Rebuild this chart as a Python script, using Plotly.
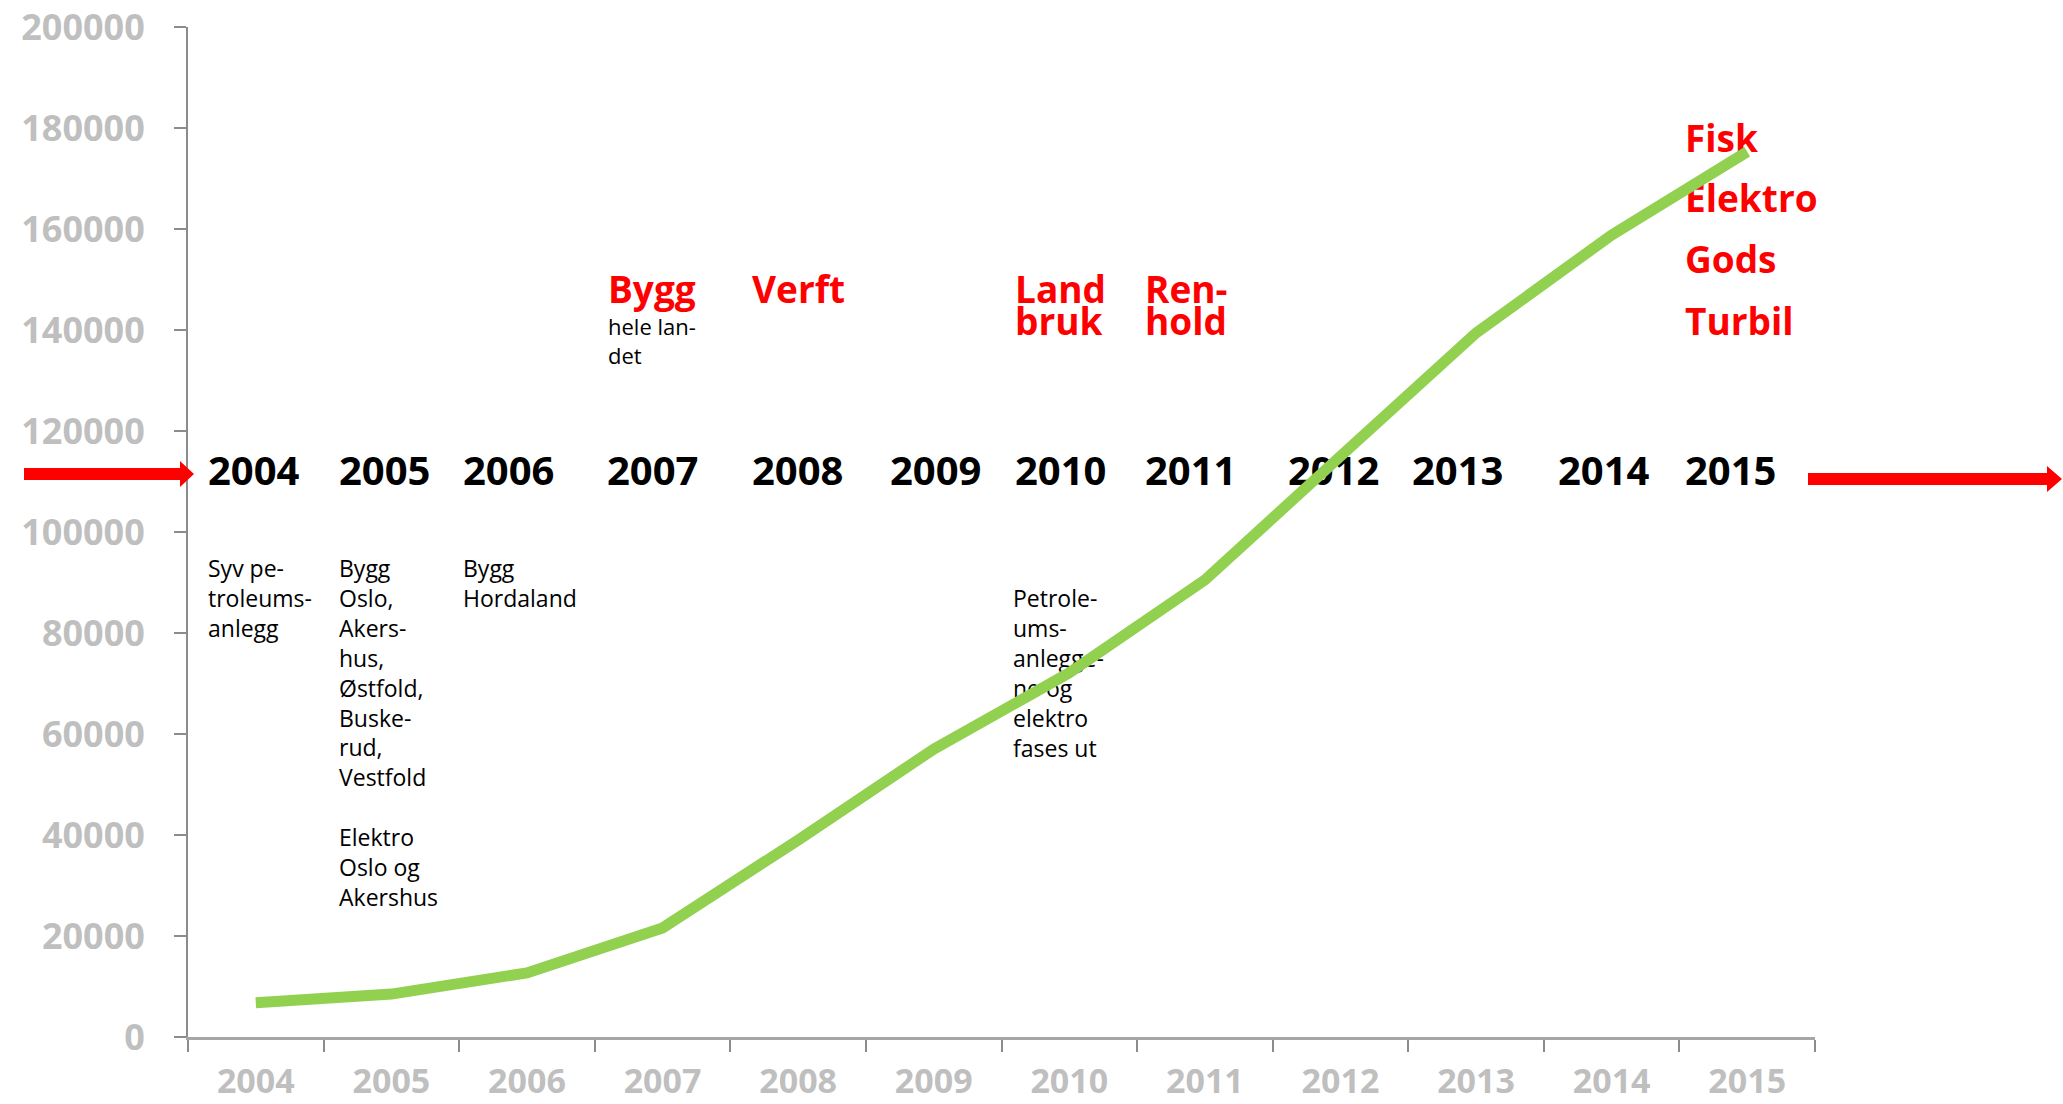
import plotly.graph_objects as go

# ---------------- data ----------------
years = ["2004", "2005", "2006", "2007", "2008", "2009",
         "2010", "2011", "2012", "2013", "2014", "2015"]
employees = [6800, 8500, 12700, 21600, 39000, 57000,
             72100, 90500, 115000, 139400, 158800, 175300]
y_ticks = [0, 20000, 40000, 60000, 80000, 100000,
           120000, 140000, 160000, 180000, 200000]

# timeline texts
notes_text = [
    "Syv pe-<br>troleums-<br>anlegg",
    "Bygg<br>Oslo,<br>Akers-<br>hus,<br>Østfold,<br>Buske-<br>rud,<br>Vestfold<br> <br>Elektro<br>Oslo og<br>Akershus",
    "Bygg<br>Hordaland",
    "Petrole-<br>ums-<br>anlegge-<br>ne og<br>elektro<br>fases ut",
]
sub_note_text = ["hele lan-<br>det"]
red_text = ["Bygg", "Verft", "Land", "bruk", "Ren-", "hold",
            "Fisk", "Elektro", "Gods", "Turbil"]

# ---------------- layout geometry (pixels) ----------------
W, H = 2063, 1104
ML, MR, MT, MB = 188, 248, 27, 67
PW = W - ML - MR
PH = H - MT - MB
NCAT = len(years)
CATW = PW / NCAT
YMAX = 200000


def dx(px):
    return (px - ML) / CATW - 0.5


def dy(py):
    return (H - MB - py) / PH * YMAX


def pxp(px):
    return (px - ML) / PW


def pyp(py):
    return (H - MB - py) / PH


year_label_left = [208, 339, 463, 607, 752, 890, 1015, 1145, 1288, 1412, 1558, 1685]
year_label_base = 485
notes_left = [208, 339, 463, 1013]
notes_base = [577, 577, 577, 607]
red_left = [608, 752, 1015, 1015, 1145, 1145, 1685, 1685, 1685, 1685]
red_base = [303, 303, 303, 335, 303, 335, 152, 212, 273, 335]

FONT = "Open Sans"
F_NOTE = 23
F_SUB = 22
F_YEAR = 40
F_RED = 37

fig = go.Figure()

# notes (drawn under the line)
fig.add_trace(go.Scatter(
    x=[dx(p) for p in notes_left],
    y=[dy(b - 0.75 * F_NOTE) for b in notes_base],
    text=notes_text, mode="text", textposition="bottom right",
    textfont=dict(family=FONT, size=F_NOTE, color="#000000"),
    cliponaxis=False, hoverinfo="skip"))

fig.add_trace(go.Scatter(
    x=[dx(608)], y=[dy(335 - 0.75 * F_SUB)],
    text=sub_note_text, mode="text", textposition="bottom right",
    textfont=dict(family=FONT, size=F_SUB, color="#000000"),
    cliponaxis=False, hoverinfo="skip"))

fig.add_trace(go.Scatter(
    x=[dx(p) for p in year_label_left],
    y=[dy(year_label_base - 0.25 * F_YEAR)] * NCAT,
    text=years, mode="text", textposition="middle right",
    textfont=dict(family=FONT, size=F_YEAR, color="#000000", weight=700),
    cliponaxis=False, hoverinfo="skip"))

fig.add_trace(go.Scatter(
    x=[dx(p) for p in red_left],
    y=[dy(b - 0.25 * F_RED) for b in red_base],
    text=red_text, mode="text", textposition="middle right",
    textfont=dict(family=FONT, size=F_RED, color="#FF0000", weight=700),
    cliponaxis=False, hoverinfo="skip"))

# main line
fig.add_trace(go.Scatter(
    x=list(range(NCAT)), y=employees, mode="lines",
    line=dict(color="#92D050", width=11),
    cliponaxis=False, hoverinfo="skip"))

# red arrows
def arrow_path(x0, x1, xh, yc, half_shaft, half_head):
    pts = [(x0, yc - half_shaft), (xh, yc - half_shaft), (xh, yc - half_head),
           (x1, yc), (xh, yc + half_head), (xh, yc + half_shaft), (x0, yc + half_shaft)]
    return "M " + " L ".join(f"{pxp(a):.5f},{pyp(b):.5f}" for a, b in pts) + " Z"


fig.add_shape(type="path", xref="paper", yref="paper",
              path=arrow_path(24, 194, 180, 474, 6, 13),
              fillcolor="#FF0000", line=dict(width=0))
fig.add_shape(type="path", xref="paper", yref="paper",
              path=arrow_path(1808, 2062, 2047, 479, 6, 13),
              fillcolor="#FF0000", line=dict(width=0))

fig.update_layout(
    width=W, height=H, autosize=False,
    margin=dict(l=ML, r=MR, t=MT, b=MB, pad=0, autoexpand=False),
    paper_bgcolor="white", plot_bgcolor="white",
    showlegend=False, hovermode=False,
    font=dict(family=FONT),
    xaxis=dict(
        range=[-0.5, NCAT - 0.5], tickmode="array",
        tickvals=list(range(NCAT)), ticktext=years,
        ticks="", showgrid=False, zeroline=False, automargin=False,
        showline=True, linecolor="#A6A6A6", linewidth=3,
        tickfont=dict(family=FONT, size=34, color="#BFBFBF", weight=700),
        ticklabelstandoff=12,
        minor=dict(tickvals=[i - 0.5 for i in range(NCAT + 1)],
                   ticks="outside", ticklen=12, tickwidth=1.5, tickcolor="#8C8C8C",
                   showgrid=False),
    ),
    yaxis=dict(
        range=[0, YMAX], tickmode="array", tickvals=y_ticks,
        ticktext=[str(v) for v in y_ticks], automargin=False,
        ticks="outside", ticklen=12, tickwidth=1.5, tickcolor="#8C8C8C",
        showgrid=False, zeroline=False,
        showline=True, linecolor="#8C8C8C", linewidth=2,
        tickfont=dict(family=FONT, size=36, color="#BFBFBF", weight=700),
        ticklabelstandoff=22,
    ),
)

fig.write_html("out.html", config={"displayModeBar": False},
               post_script="document.body.style.margin='0';document.body.style.overflow='hidden';")
